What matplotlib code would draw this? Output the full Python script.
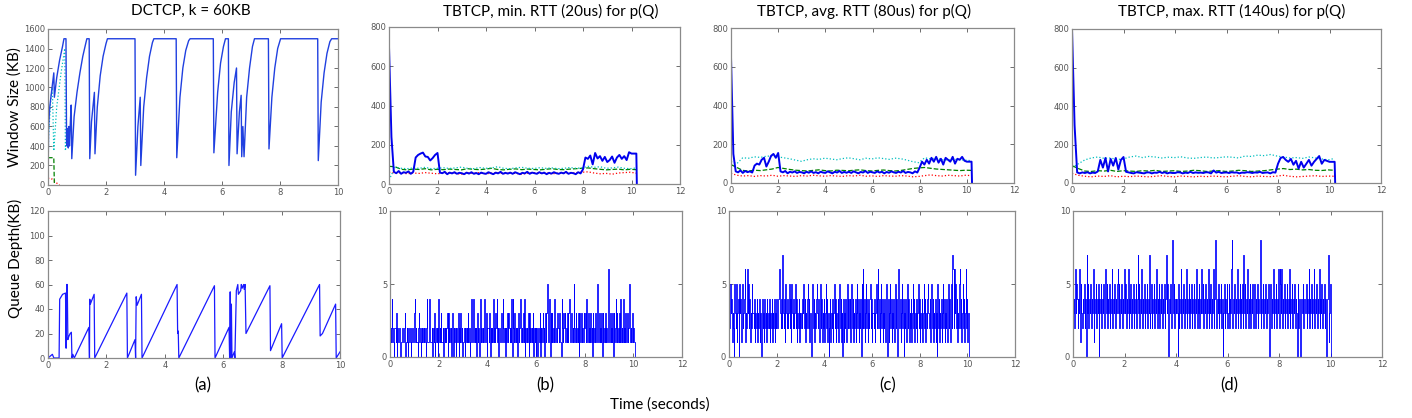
import numpy as np
import matplotlib.pyplot as plt

plt.rcParams['font.family'] = 'DejaVu Sans'
TXT = ['Lato', 'DejaVu Sans']

# ---------------- DCTCP (a) ----------------
# window size breakpoints (time s, KB)
dc_win_t = [0, 0.02, 0.06, 0.12, 0.2, 0.22, 0.3, 0.4, 0.5, 0.55, 0.62, 0.64, 0.66, 0.68, 0.7, 0.72, 0.74,
            0.78, 0.8, 0.82, 0.9, 1.0, 1.1, 1.2, 1.3, 1.34, 1.42, 1.44, 1.5, 1.6, 1.62, 1.7, 1.8, 1.9, 2.0,
            2.05, 3.0, 3.02, 3.1, 3.18, 3.2, 3.3, 3.4, 3.5, 3.6, 3.65, 4.42, 4.44, 4.55, 4.65, 4.75, 4.85,
            4.9, 5.7, 5.72, 5.85, 5.95, 6.05, 6.12, 6.22, 6.24, 6.32, 6.42, 6.5, 6.52, 6.6, 6.66, 6.68,
            6.72, 6.76, 6.85, 6.95, 7.05, 7.12, 7.6, 7.62, 7.72, 7.82, 7.92, 8.02, 9.3, 9.32, 9.42, 9.52,
            9.62, 9.72, 9.78, 10.0]
dc_win_v = [0, 600, 800, 950, 1150, 900, 1100, 1280, 1420, 1500, 1500, 450, 400, 580, 380, 600, 400,
            700, 820, 270, 700, 950, 1150, 1320, 1450, 1500, 1500, 270, 650, 950, 320, 800, 1120, 1320, 1450,
            1500, 1500, 100, 600, 900, 200, 800, 1100, 1320, 1460, 1500, 1500, 280, 900, 1200, 1380, 1480,
            1500, 1500, 330, 950, 1250, 1420, 1500, 1500, 200, 750, 1050, 1200, 320, 750, 920, 290,
            600, 290, 900, 1200, 1420, 1500, 1500, 370, 900, 1200, 1400, 1500, 1500, 250, 850, 1150,
            1350, 1470, 1500, 1500]
dc_cyan_t = [0, 0.02, 0.1, 0.15, 0.2, 0.3, 0.45, 0.58, 0.6, 0.65, 0.7]
dc_cyan_v = [0, 500, 900, 1000, 350, 800, 1150, 1400, 350, 500, 600]
dc_green_t = [0, 0.2, 0.22]
dc_green_v = [280, 280, 0]
dc_red_t = [0, 0.15, 0.3, 0.4]
dc_red_v = [70, 60, 20, 0]

# queue depth breakpoints (time s, KB)
dc_q_t = [0, 0.1, 0.15, 0.2, 0.38, 0.4, 0.45, 0.5, 0.6, 0.62, 0.64, 0.66, 0.68, 0.72, 0.76, 0.8, 0.82,
          0.85, 0.9, 1.4, 1.42, 1.43, 1.45, 1.58, 1.6, 2.7, 2.72, 2.98, 3.0, 3.02, 3.05, 3.2, 3.22, 4.42,
          4.44, 4.46, 4.48, 5.7, 5.72, 6.2, 6.22, 6.24, 6.26, 6.28, 6.3, 6.38, 6.4, 6.45, 6.5, 6.52, 6.6,
          6.62, 6.65, 6.7, 6.72, 6.75, 6.78, 7.6, 7.62, 8.0, 8.02, 9.3, 9.32, 9.4, 9.85, 9.87, 10.0]
dc_q_v = [0, 2, 3, 0, 0, 48, 50, 52, 53, 8, 60, 60, 15, 18, 20, 21, 0,
          3, 0, 25, 0, 48, 44, 52, 0, 53, 0, 15, 0, 50, 43, 52, 0, 60,
          20, 22, 0, 59, 0, 25, 0, 54, 0, 44, 0, 5, 0, 55, 60, 52, 55,
          60, 57, 60, 56, 60, 20, 59, 6, 28, 0, 60, 18, 20, 44, 0, 5]

# ---------------- TBTCP (b)(c)(d) window size ----------------
# main flow sampled every 0.1 s from t = 0 to 10.2 s
tb_blue = {
    'b': [700, 240, 62, 55, 66, 52, 60, 57, 64, 52,
          62, 135, 148, 155, 160, 140, 138, 120, 132, 148,
          158, 58, 55, 62, 50, 58, 54, 60, 52, 57,
          55, 50, 58, 53, 60, 52, 56, 50, 58, 54,
          52, 60, 55, 50, 58, 54, 62, 52, 57, 53,
          58, 52, 60, 55, 50, 57, 54, 62, 52, 58,
          55, 52, 60, 54, 58, 50, 57, 53, 60, 55,
          52, 58, 54, 62, 52, 57, 55, 50, 60, 54,
          75, 135, 128, 145, 100, 158, 130, 142, 118, 138,
          112, 122, 140, 108, 135, 148, 128, 142, 122, 162,
          155, 155, 155],
    'c': [650, 150, 60, 55, 65, 52, 62, 56, 60, 54,
          90, 100, 95, 120, 130, 85, 110, 140, 150, 130,
          155, 60, 55, 62, 50, 58, 54, 60, 52, 57,
          55, 50, 58, 53, 60, 52, 56, 50, 58, 54,
          52, 60, 55, 50, 58, 54, 62, 52, 57, 53,
          58, 52, 60, 55, 50, 57, 54, 62, 52, 58,
          55, 52, 60, 54, 58, 50, 57, 53, 60, 55,
          52, 58, 54, 62, 52, 57, 55, 50, 60, 54,
          80, 110, 95, 120, 100, 130, 110, 135, 105, 125,
          95, 130, 120, 110, 135, 100, 125, 120, 135, 115,
          110, 110, 110],
    'd': [800, 300, 55, 50, 55, 52, 56, 50, 54, 52,
          60, 120, 80, 130, 60, 125, 90, 130, 70, 120,
          135, 58, 55, 52, 50, 56, 54, 52, 50, 55,
          55, 50, 54, 53, 58, 52, 56, 50, 54, 52,
          52, 56, 55, 50, 54, 52, 58, 52, 55, 53,
          54, 52, 56, 55, 50, 65, 54, 58, 52, 54,
          55, 52, 56, 54, 55, 50, 54, 53, 56, 55,
          52, 55, 54, 58, 52, 54, 55, 50, 56, 54,
          100, 130, 135, 120, 110, 125, 95, 115, 75, 110,
          80, 100, 120, 90, 110, 125, 140, 100, 120, 115,
          110, 110, 110],
}
# other flows sampled every 0.25 s
tb_cyan = {
    'b': [20, 85, 80, 78, 82, 80, 85, 78, 80, 83, 79, 82, 86, 80, 78, 84, 80, 82, 88, 80, 78,
          82, 85, 80, 79, 83, 80, 82, 78, 80, 84, 80, 82, 90, 85, 88, 80, 82, 86, 80, 78, 82],
    'c': [110, 100, 130, 128, 135, 132, 138, 140, 135, 130, 125, 118, 112, 120, 125, 122, 128, 124,
          120, 126, 130, 125, 120, 128, 124, 130, 126, 122, 128, 125, 118, 110, 105, 130, 125, 128,
          120, 118, 122, 120, 118, 115],
    'd': [80, 100, 120, 130, 135, 128, 130, 122, 125, 135, 140, 132, 138, 135, 130, 134, 132, 136,
          130, 128, 132, 135, 130, 132, 136, 134, 130, 140, 138, 145, 142, 148, 140, 135, 130, 132,
          128, 135, 130, 125, 120, 128],
}
tb_green = {
    'b': [90, 88, 75, 72, 76, 74, 78, 72, 75, 73, 76, 74, 72, 78, 75, 73, 76, 80, 74, 72, 75,
          77, 73, 76, 74, 72, 75, 78, 74, 73, 76, 78, 80, 82, 78, 75, 72, 74, 76, 72, 75, 73],
    'c': [95, 80, 65, 62, 66, 64, 68, 72, 80, 75, 70, 66, 64, 62, 65, 68, 64, 62, 66, 65, 63,
          66, 68, 64, 62, 65, 67, 64, 62, 65, 70, 75, 78, 80, 76, 72, 70, 68, 66, 64, 66, 65],
    'd': [90, 75, 62, 60, 64, 62, 66, 60, 64, 62, 60, 64, 62, 66, 60, 62, 64, 60, 62, 66, 64,
          60, 62, 64, 60, 62, 66, 64, 60, 62, 64, 68, 72, 75, 70, 72, 68, 70, 66, 65, 68, 66],
}
tb_red = {
    'b': [60, 55, 58, 52, 56, 54, 58, 55, 52, 56, 58, 54, 50, 56, 55, 58, 52, 55, 57, 53, 56,
          54, 50, 55, 58, 54, 56, 52, 55, 57, 54, 58, 60, 62, 56, 52, 54, 50, 56, 58, 60, 55],
    'c': [50, 40, 36, 38, 34, 38, 36, 40, 35, 38, 36, 34, 38, 36, 40, 37, 35, 38, 36, 34, 38,
          36, 40, 35, 37, 34, 38, 36, 35, 38, 36, 32, 34, 38, 42, 38, 36, 40, 38, 36, 40, 38],
    'd': [50, 40, 35, 32, 36, 34, 38, 32, 35, 33, 36, 34, 32, 35, 38, 34, 32, 36, 34, 32, 35,
          33, 36, 34, 32, 35, 38, 34, 32, 36, 34, 33, 36, 40, 35, 32, 34, 36, 38, 34, 36, 35],
}

# ---------------- TBTCP queue depth (packets), one row per second ----------------
tb_queue = {
    'b': ["1214210221302112101221123012102122012113",
          "4121102312012121210241124211202130121204",
          "1213112021212303121203102120211302131201",
          "1202121312014312412120312104121213412302",
          "2130212141213241202113214212021313212140",
          "4213121203124212131402121303121213021202",
          "0121302123120313521240313121431213213210",
          "4213231213134312312152131213031231213231",
          "4213121312031213125213121303121312136213",
          "1213031241312131412141213123125212131210"],
    'c': ["2353413205325134053413523461326352413253",
          "3241324132413204231423142324132413241324",
          "2345632427324153242352415324235241324132",
          "3243524132452413204524132453241352413241",
          "3524130241324135241324135241304132413524",
          "2413524132413524132405262413524132452413",
          "3241352462413524132413520413524132413524",
          "0363241352403241352413241352413241352413",
          "2413524132453241352413241305241324135241",
          "3241352413527626352413256241352413624132"],
    'd': ["3426354243615324352407352435243614352435",
          "0435243524635243524362435243563524352436",
          "3524362435243524352473524362435243524372",
          "3524352436243524352435247350243524835243",
          "4305243624352436243524352435243624352436",
          "3524352436243524362485243524352403524352",
          "3524368243524362435243527352436243524352",
          "3524352436824352435243520352436243524362",
          "6536243524352436243524352430524302435243",
          "3524362435243624352436243524352402471352"],
}
tb_end = {'b': 10.05, 'c': 10.05, 'd': 10.0}

titles = ["DCTCP, k = 60KB", "TBTCP, min. RTT (20us) for p(Q)",
          "TBTCP, avg. RTT (80us) for p(Q)", "TBTCP, max. RTT (140us) for p(Q)"]
letters = ["(a)", "(b)", "(c)", "(d)"]

W, H = 1412, 418
fig = plt.figure(figsize=(W / 100, H / 100), dpi=100)

top_px = [(48, 29, 338, 185), (389, 27, 680, 184), (731, 28, 1014, 183), (1072, 29, 1381, 183)]
bot_px = [(48, 211, 340, 358), (390, 211, 682, 357), (729, 211, 1015, 357), (1073, 211, 1382, 357)]
title_x = [191, 551, 864, 1232]
letter_x = [203, 545, 888, 1229]


def rect(p):
    l, t, r, b = p
    return [l / W, 1 - b / H, (r - l) / W, (b - t) / H]


def style(ax):
    ax.tick_params(direction='in', top=True, right=True, labelsize=6, colors='#555555',
                   length=3, width=0.6, pad=2)
    for s in ax.spines.values():
        s.set_color('#8a8a8a')
        s.set_linewidth(0.9)


for i in range(4):
    at = fig.add_axes(rect(top_px[i]))
    ab = fig.add_axes(rect(bot_px[i]))
    if i == 0:
        at.plot(dc_red_t, dc_red_v, color='r', ls=':', lw=0.9)
        at.plot(dc_green_t, dc_green_v, color='g', ls='--', lw=0.9)
        at.plot(dc_cyan_t, dc_cyan_v, color='c', ls=':', lw=0.9)
        at.plot(dc_win_t, dc_win_v, color='#2040e0', lw=1.0)
        at.set_xlim(0, 10)
        at.set_ylim(0, 1600)
        at.set_yticks(range(0, 1601, 200))
        ab.plot(dc_q_t, dc_q_v, color='#1a1aff', lw=0.9)
        ab.set_xlim(0, 10)
        ab.set_ylim(0, 120)
        ab.set_yticks(range(0, 121, 20))
        at.set_xticks(range(0, 11, 2))
        ab.set_xticks(range(0, 11, 2))
    else:
        k = 'bcd'[i - 1]
        bl = tb_blue[k]
        tt = np.arange(len(bl)) * 0.1
        ts = np.linspace(0, 10.2, len(tb_cyan[k]))
        at.plot(ts, tb_red[k], color='r', ls=':', lw=0.9)
        at.plot(ts, tb_green[k], color='g', ls='--', lw=0.9)
        at.plot(ts, tb_cyan[k], color='c', ls=':', lw=0.9)
        at.plot(np.append(tt, 10.22), np.append(bl, 0), color='#0000ee', lw=1.4)
        at.set_xlim(0, 12)
        at.set_ylim(0, 800)
        at.set_yticks(range(0, 801, 200))
        at.set_xticks(range(0, 13, 2))
        q = [int(c) for c in ''.join(tb_queue[k])]
        qt = np.linspace(0, tb_end[k], len(q))
        ab.step(np.append(qt, tb_end[k] + 0.01), np.append(q, 0), where='post',
                color='#0000ff', lw=0.6)
        ab.set_xlim(0, 12)
        ab.set_ylim(0, 10)
        ab.set_yticks([0, 5, 10])
        ab.set_xticks(range(0, 13, 2))
    style(at)
    style(ab)
    fig.text(title_x[i] / W, 1 - 11 / H, titles[i], ha='center', va='center', fontsize=11, family=TXT)
    fig.text(letter_x[i] / W, 1 - 385 / H, letters[i], ha='center', va='center', fontsize=12, family=TXT)

fig.text(15 / W, 1 - 107 / H, "Window Size (KB)", rotation=90, ha='center', va='center',
         fontsize=11, family=TXT)
fig.text(15 / W, 1 - 258 / H, "Queue Depth(KB)", rotation=90, ha='center', va='center',
         fontsize=11, family=TXT)
fig.text(660 / W, 1 - 405 / H, "Time (seconds)", ha='center', va='center', fontsize=11, family=TXT)

fig.savefig('out.png', dpi=100)
